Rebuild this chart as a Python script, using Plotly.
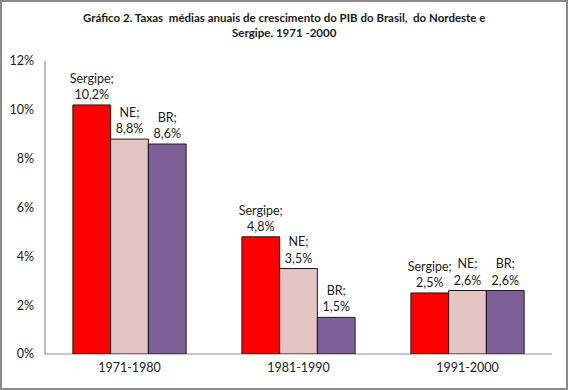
import plotly.graph_objects as go

periods = ["1971-1980", "1981-1990", "1991-2000"]
series_names = ["Sergipe", "NE", "BR"]
sergipe = [10.2, 4.8, 2.5]
ne = [8.8, 3.5, 2.6]
br = [8.6, 1.5, 2.6]
y_ticks = [0, 2, 4, 6, 8, 10, 12]
title_text = "Gráfico 2. Taxas  médias anuais de crescimento do PIB do Brasil,  do Nordeste e<br>Sergipe. 1971 -2000"

colors = ["#FF0000", "#E3C6C3", "#7F5F97"]
W, H = 568, 390
ml, mr, mt, mb = 45, 16, 61, 36
pw, ph = W - ml - mr, H - mt - mb

fig = go.Figure()
for name, vals, col in zip(series_names, [sergipe, ne, br], colors):
    labels = [f"{name};<br>{str(v).replace('.', ',')}%" for v in vals]
    fig.add_trace(go.Bar(
        x=periods, y=vals, name=name, marker=dict(color=col, line=dict(color="#1a1a1a", width=1)),
        text=labels, textposition="outside", constraintext="none", cliponaxis=False,
        textfont=dict(family="Lato, Open Sans, sans-serif", size=12.5, color="#1a1a1a"),
    ))

fig.update_layout(
    width=W, height=H, barmode="group", bargap=0.33, bargroupgap=0,
    margin=dict(l=ml, r=mr, t=mt, b=mb, autoexpand=False),
    paper_bgcolor="white", plot_bgcolor="white", showlegend=False,
    font=dict(family="Lato, Open Sans, sans-serif", size=12, color="#1a1a1a"),
    annotations=[dict(text="<b>" + title_text + "</b>", xref="paper", yref="paper",
                      x=(W / 2 - ml) / pw, y=1 + (mt - 9) / ph,
                      xanchor="center", yanchor="top", showarrow=False,
                      font=dict(size=11.5, color="#1a1a1a"), align="center")],
    shapes=[
        dict(type="rect", xref="paper", yref="paper",
             x0=-(ml - 1) / pw, x1=1 + (mr - 1) / pw,
             y0=-(mb - 1) / ph, y1=1 + (mt - 1) / ph,
             line=dict(color="#8a8a8a", width=2)),
        dict(type="line", xref="paper", yref="paper", x0=0, x1=1, y0=0, y1=0,
             line=dict(color="#b4b4b4", width=1.5), layer="below"),
        dict(type="line", xref="paper", yref="paper", x0=0, x1=0, y0=0, y1=1,
             line=dict(color="#7a7a7a", width=1), layer="above"),
    ],
)
fig.update_yaxes(range=[0, 12], tickvals=y_ticks, ticktext=[f"{t}%" for t in y_ticks],
                 showgrid=False, showline=False, ticks="", ticklabelstandoff=10,
                 zeroline=False, automargin=False, tickfont=dict(size=12.5))
fig.update_xaxes(showline=False, ticks="", automargin=False,
                 tickfont=dict(size=12.5), ticklabelstandoff=4)

fig.write_html("out.html", config={"displayModeBar": False},
               post_script="document.body.style.margin='0';document.body.style.overflow='hidden';")
